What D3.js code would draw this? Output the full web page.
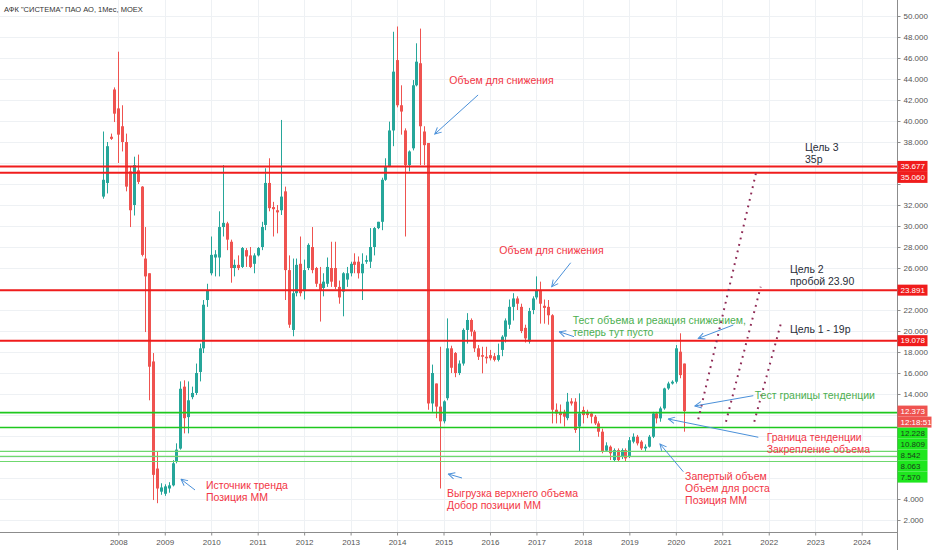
<!DOCTYPE html>
<html>
<head>
<meta charset="utf-8">
<script src="https://cdn.jsdelivr.net/npm/d3@7"></script>
<style>
  body { margin: 0; background: #fff; }
  svg { display: block; font-family: "Liberation Sans", Arial, sans-serif; }
</style>
</head>
<body>
<svg id="chart" width="932" height="550"></svg>
<script>
// monthly candles, first bar = Sep 2007
var startYear = 2007;
var startMonth = 9;

var opens = [
  32.8, 34.1, 38.5, 43.0,
  41.2, 39.5, 38.0, 35.2, 32.0, 35.3, 33.75, 26.9, 25.5, 17.1, 6.9, 4.7,
  4.5, 5.0, 5.3, 7.55, 8.8, 14.7, 11.8, 13.7, 14.1, 16.1, 18.35, 22.95,
  25.5, 27.0, 27.0, 29.9, 30.25, 28.5, 26.0, 26.3, 26.1, 27.7, 27.2, 26.4,
  27.2, 28.0, 30.1, 34.1, 31.8, 31.5, 31.5, 33.3, 25.8, 20.1, 23.6, 26.4,
  23.8, 26.0, 28.0, 26.0, 24.5, 24.1, 24.5, 26.0, 26.0, 24.2, 23.75, 24.9,
  25.5, 26.6, 26.6, 25.5, 26.6, 26.6, 28.0, 29.8, 30.4, 34.4, 35.65, 39.1,
  45.8, 41.5, 39.1, 35.8, 37.4, 43.4, 45.5, 39.0, 37.9, 13.1, 15.0, 12.8,
  11.4, 13.6, 18.35, 17.9, 16.0, 16.9, 20.1, 21.05, 19.94, 18.35, 17.7, 17.55,
  17.7, 17.6, 17.25, 18.2, 19.46, 20.6, 22.3, 23.1, 22.3, 20.3, 19.0, 22.0,
  23.2, 23.9, 22.4, 22.3, 21.5, 12.5, 12.3, 12.3, 11.7, 13.3, 13.27, 10.9,
  12.47, 12.3, 12.15, 11.84, 11.2, 10.41, 8.6, 8.98, 7.71, 8.66, 8.0, 8.66,
  8.0, 9.46, 9.93, 9.46, 8.82, 8.98, 9.93, 12.15, 11.68, 12.63, 14.53, 15.0,
  15.17, 18.03, 16.9
];
var highs = [
  39.0, 38.0, 38.8, 43.2,
  46.6, 41.5, 38.8, 35.65, 36.6, 36.8, 33.8, 29.9, 25.5, 17.9, 8.5, 5.5,
  5.4, 5.6, 7.7, 9.3, 15.2, 15.3, 15.2, 14.7, 16.9, 18.8, 22.95, 24.5,
  29.0, 27.7, 31.4, 35.8, 30.4, 28.7, 26.8, 27.2, 28.0, 27.9, 28.0, 27.4,
  28.0, 30.4, 35.5, 36.45, 32.3, 32.0, 40.1, 33.75, 27.2, 26.9, 26.9, 29.0,
  26.8, 28.35, 29.9, 26.1, 26.1, 25.5, 27.0, 28.5, 28.5, 24.8, 25.6, 26.1,
  26.6, 27.4, 27.1, 27.4, 27.2, 29.8, 29.9, 30.4, 34.6, 36.45, 39.94, 48.5,
  49.0, 43.4, 39.3, 37.2, 43.9, 47.4, 48.8, 39.5, 37.9, 16.8, 15.0, 18.5,
  13.4, 21.2, 18.6, 18.0, 17.2, 20.25, 21.7, 21.2, 20.1, 18.66, 18.5, 18.5,
  18.2, 17.9, 18.8, 19.6, 21.2, 23.0, 23.6, 23.3, 22.6, 20.6, 22.2, 23.3,
  25.2, 24.7, 23.0, 22.95, 21.6, 13.1, 13.0, 12.5, 14.1, 13.6, 13.6, 14.06,
  12.8, 12.5, 12.3, 12.0, 11.4, 10.7, 9.4, 9.1, 8.82, 8.82, 8.82, 8.82,
  9.9, 10.25, 10.1, 9.6, 9.2, 10.1, 12.3, 12.3, 12.8, 14.6, 15.17, 15.3,
  18.66, 19.78, 16.9
];
var lows = [
  32.6, 33.1, 38.2, 39.9,
  36.0, 37.1, 33.3, 29.9, 31.0, 34.0, 27.1, 19.9, 13.4, 3.9, 3.6, 4.4,
  4.3, 4.6, 5.2, 7.4, 8.7, 10.25, 10.25, 13.5, 13.9, 15.2, 17.9, 22.3,
  25.3, 25.2, 25.2, 29.0, 27.7, 24.6, 25.2, 25.8, 26.0, 26.1, 26.0, 25.5,
  27.1, 27.7, 29.6, 31.4, 29.0, 29.3, 31.05, 22.95, 20.3, 19.5, 23.3, 23.3,
  23.0, 25.8, 25.5, 24.2, 20.9, 23.3, 24.2, 24.2, 24.0, 22.6, 21.4, 24.2,
  25.2, 25.5, 25.0, 22.95, 26.4, 26.0, 27.2, 29.7, 29.6, 34.3, 35.6, 37.6,
  41.3, 38.7, 29.0, 35.2, 37.2, 43.3, 35.8, 35.8, 12.5, 12.3, 11.7, 5.0,
  11.2, 13.4, 16.0, 15.6, 15.8, 16.7, 18.8, 19.5, 18.0, 17.24, 15.97, 16.9,
  17.2, 17.1, 17.1, 17.6, 18.9, 20.2, 21.0, 22.0, 19.8, 18.9, 18.8, 21.6,
  23.0, 20.7, 20.7, 20.6, 11.2, 11.2, 11.2, 10.9, 11.5, 12.9, 10.3, 8.5,
  11.2, 11.7, 11.2, 11.05, 9.93, 8.35, 8.5, 7.71, 7.55, 7.55, 7.8, 7.55,
  7.9, 9.3, 9.1, 8.66, 8.5, 8.9, 9.8, 11.2, 11.36, 12.5, 14.4, 14.9,
  15.0, 15.5, 10.41
];
var closes = [
  34.4, 37.6, 38.3, 40.7,
  38.7, 38.0, 33.75, 31.5, 35.8, 34.2, 27.25, 25.2, 16.6, 6.3, 5.0, 5.1,
  5.2, 5.3, 7.4, 8.7, 14.5, 11.7, 13.4, 14.1, 16.0, 18.35, 22.5, 23.9,
  27.25, 27.3, 29.9, 30.3, 28.7, 26.0, 26.3, 26.0, 27.9, 27.1, 26.1, 27.2,
  27.9, 29.9, 34.1, 31.7, 31.6, 31.3, 32.8, 25.8, 20.6, 23.6, 26.3, 23.6,
  25.8, 28.2, 25.8, 24.5, 23.9, 24.7, 26.1, 24.7, 24.2, 23.2, 25.5, 25.5,
  26.4, 26.3, 25.5, 26.4, 26.75, 28.0, 29.8, 30.4, 34.4, 35.65, 39.1, 44.7,
  41.5, 40.9, 35.8, 37.1, 43.4, 45.65, 39.5, 37.7, 13.1, 16.0, 12.8, 11.4,
  13.3, 18.35, 16.5, 16.0, 16.9, 20.1, 21.05, 19.94, 18.35, 17.55, 17.55, 17.4,
  17.4, 17.25, 17.7, 19.46, 21.0, 22.3, 23.1, 22.6, 20.0, 19.3, 21.9, 23.1,
  23.9, 22.6, 22.2, 21.5, 12.5, 12.15, 12.0, 11.84, 13.27, 13.1, 10.57, 12.15,
  12.0, 12.0, 11.84, 11.2, 10.41, 8.5, 9.1, 8.35, 8.66, 7.71, 8.66, 7.87,
  9.6, 9.93, 9.3, 8.82, 8.98, 9.93, 12.15, 11.68, 12.63, 14.53, 15.0, 15.17,
  18.35, 15.8, 12.373
];

// horizontal levels
var redLevels = [35.677, 35.060, 23.891, 19.078];
var greenLevels = [12.228, 10.809, 8.542, 8.063, 7.570];
var lastPrice = 12.373;
var countdown = "12:18:51";

var yearTicks = d3.range(2008, 2025);
var priceTicks = d3.range(2, 51, 2);

// notes: t = decimal year, p = price
var notes = [
  { t: 2015.124, p: 43.9, color: "#f23645", lines: ["Объем для снижения"] },
  { t: 2016.20, p: 27.65, color: "#f23645", lines: ["Объем для снижения"] },
  { t: 2017.78, p: 21.05, color: "#4caf50", lines: ["Тест объема и реакция снижением,", "теперь тут пусто"] },
  { t: 2022.78, p: 37.52, color: "#2a2e39", lines: ["Цель 3", "35р"] },
  { t: 2022.458, p: 25.86, color: "#2a2e39", lines: ["Цель 2", "пробой 23.90"] },
  { t: 2022.458, p: 20.19, color: "#2a2e39", lines: ["Цель 1 - 19р"] },
  { t: 2021.70, p: 13.86, color: "#4caf50", lines: ["Тест границы тенденции"] },
  { t: 2021.955, p: 9.88, color: "#f23645", lines: ["Граница тенденции", "Закрепление объема"] },
  { t: 2020.20, p: 6.19, color: "#f23645", lines: ["Запертый объем", "Объем для роста", "Позиция ММ"] },
  { t: 2015.075, p: 4.57, color: "#f23645", lines: ["Выгрузка верхнего объема", "Добор позиции ММ"] },
  { t: 2009.887, p: 5.33, color: "#f23645", lines: ["Источник тренда", "Позиция ММ"] }
];
var arrows = [
  [[2015.744, 42.48], [2014.812, 38.76]],
  [[2017.737, 26.50], [2017.329, 24.22]],
  [[2017.808, 19.46], [2017.492, 19.93]],
  [[2021.237, 20.57], [2020.484, 19.30]],
  [[2021.668, 13.84], [2020.413, 12.86]],
  [[2021.775, 9.88], [2019.838, 11.62]],
  [[2020.161, 6.60], [2019.659, 9.24]],
  [[2015.398, 6.00], [2015.103, 6.38]],
  [[2009.651, 4.86], [2009.350, 5.88]]
];
var targetPaths = [
  [[2020.484, 11.59], [2021.741, 35.33]],
  [[2021.080, 11.36], [2021.827, 24.22]],
  [[2021.689, 11.36], [2022.264, 20.76]]
];

var width = 932;
var height = 550;
var plotRight = 897.5;
var plotBottom = 532.5;

var x = d3.scaleLinear().domain([2005.4537, 2024.7607]).range([0, 897]);
var y = d3.scaleLinear().domain([0.762, 51.524]).range([533, 0]);

var candles = closes.map(function (c, i) {
  var m = startMonth - 1 + i;
  return {
    t: startYear + Math.floor(m / 12) + (m % 12) / 12,
    o: opens[i], h: highs[i], l: lows[i], c: c
  };
});

var svg = d3.select("#chart");

svg.append("defs").append("marker")
  .attr("id", "head")
  .attr("viewBox", "0 0 10 10")
  .attr("refX", 9).attr("refY", 5)
  .attr("markerWidth", 8).attr("markerHeight", 8)
  .attr("markerUnits", "userSpaceOnUse")
  .attr("orient", "auto")
  .append("path")
  .attr("d", "M1,1 L9,5 L1,9")
  .attr("fill", "none")
  .attr("stroke", "#4a90d9")
  .attr("stroke-width", 1.2);

svg.append("defs").append("clipPath").attr("id", "plot")
  .append("rect").attr("width", plotRight).attr("height", plotBottom);

// grid
var grid = svg.append("g");
grid.selectAll(".hg").data(priceTicks).enter().append("line")
  .attr("x1", 0).attr("x2", plotRight)
  .attr("y1", function (d) { return Math.round(y(d)) + 0.5; })
  .attr("y2", function (d) { return Math.round(y(d)) + 0.5; })
  .attr("stroke", "#eef1f4");
grid.selectAll(".vg").data(yearTicks).enter().append("line")
  .attr("x1", function (d) { return Math.round(x(d)) + 0.5; })
  .attr("x2", function (d) { return Math.round(x(d)) + 0.5; })
  .attr("y1", 0).attr("y2", plotBottom)
  .attr("stroke", "#eef1f4");

// title
svg.append("text")
  .attr("x", 4).attr("y", 12)
  .attr("font-size", 7.5)
  .attr("fill", "#333")
  .text("АФК \"СИСТЕМА\" ПАО АО, 1Мес, MOEX");

// candles
var plot = svg.append("g").attr("clip-path", "url(#plot)");
var bar = plot.selectAll(".c").data(candles).enter().append("g");
bar.append("line")
  .attr("x1", function (d) { return Math.round(x(d.t)) + 0.5; })
  .attr("x2", function (d) { return Math.round(x(d.t)) + 0.5; })
  .attr("y1", function (d) { return y(d.h); })
  .attr("y2", function (d) { return y(d.l); })
  .attr("stroke", function (d) { return d.c >= d.o ? "#26a69a" : "#ef5350"; })
  .attr("stroke-width", 1);
bar.append("rect")
  .attr("x", function (d) { return Math.round(x(d.t)) - 1; })
  .attr("width", 3)
  .attr("y", function (d) { return y(Math.max(d.o, d.c)); })
  .attr("height", function (d) { return Math.max(1, Math.abs(y(d.o) - y(d.c))); })
  .attr("fill", function (d) { return d.c >= d.o ? "#26a69a" : "#ef5350"; });

// levels
plot.selectAll(".gl").data(greenLevels).enter().append("line")
  .attr("x1", 0).attr("x2", plotRight)
  .attr("y1", function (d) { return y(d); })
  .attr("y2", function (d) { return y(d); })
  .attr("stroke", function (d, i) { return i < 2 ? "#1ec81e" : "#6fd86f"; })
  .attr("stroke-width", function (d, i) { return i < 2 ? 1.6 : 1.2; });
plot.selectAll(".rl").data(redLevels).enter().append("line")
  .attr("x1", 0).attr("x2", plotRight)
  .attr("y1", function (d) { return y(d); })
  .attr("y2", function (d) { return y(d); })
  .attr("stroke", "#f01c1c")
  .attr("stroke-width", 2);

// dotted target paths
plot.selectAll(".tp").data(targetPaths).enter().append("line")
  .attr("x1", function (d) { return x(d[0][0]); })
  .attr("y1", function (d) { return y(d[0][1]); })
  .attr("x2", function (d) { return x(d[1][0]); })
  .attr("y2", function (d) { return y(d[1][1]); })
  .attr("stroke", "#8e2a55")
  .attr("stroke-width", 2)
  .attr("stroke-dasharray", "1.8 4.8");

// arrows
plot.selectAll(".ar").data(arrows).enter().append("line")
  .attr("x1", function (d) { return x(d[0][0]); })
  .attr("y1", function (d) { return y(d[0][1]); })
  .attr("x2", function (d) { return x(d[1][0]); })
  .attr("y2", function (d) { return y(d[1][1]); })
  .attr("stroke", "#4a90d9")
  .attr("stroke-width", 1)
  .attr("marker-end", "url(#head)");

// notes
var note = svg.selectAll(".note").data(notes).enter().append("text")
  .attr("x", function (d) { return x(d.t); })
  .attr("y", function (d) { return y(d.p); })
  .attr("font-size", 10.5)
  .attr("fill", function (d) { return d.color; });
note.selectAll("tspan").data(function (d) { return d.lines; }).enter().append("tspan")
  .attr("x", function () { return x(d3.select(this.parentNode).datum().t); })
  .attr("dy", function (d, i) { return i === 0 ? "0.35em" : "1.15em"; })
  .text(function (d) { return d; });

// price labels on the axis, pushed apart so they do not overlap
var labels = [];
redLevels.forEach(function (v) { labels.push({ v: v, text: v.toFixed(3), fill: "#f01c1c", color: "#fff" }); });
greenLevels.forEach(function (v) { labels.push({ v: v, text: v.toFixed(3), fill: "#1ee61e", color: "#1b3d1b" }); });
labels.push({ v: lastPrice, text: lastPrice.toFixed(3), fill: "#ef5350", color: "#fff", last: true });
labels.sort(function (a, b) { return b.v - a.v || (b.last ? 1 : -1); });
var placed = [];
var prevY = -100;
labels.forEach(function (d) {
  var cy = Math.max(y(d.v), prevY + 11);
  placed.push({ cy: cy, text: d.text, fill: d.fill, color: d.color, w: 30 });
  prevY = cy;
  if (d.last) {
    placed.push({ cy: cy + 11, text: countdown, fill: "#ef5350", color: "#fff", w: 34 });
    prevY = cy + 11;
  }
});

// axes
var yAxis = svg.append("g")
  .attr("transform", "translate(" + plotRight + ",0)")
  .call(d3.axisRight(y).tickValues(priceTicks).tickFormat(d3.format(".3f")).tickSize(3).tickPadding(3));
yAxis.select(".domain").remove();
yAxis.selectAll("line").attr("stroke", "#8c8c8c");
yAxis.selectAll("text").attr("font-size", 8).attr("fill", "#555").attr("font-family", "Liberation Sans, Arial, sans-serif");
// tick labels under a price label are hidden, as on the original axis
yAxis.selectAll(".tick").filter(function (d) {
  return placed.some(function (p) { return Math.abs(p.cy - y(d)) < 9.5; });
}).select("text").remove();

var xAxis = svg.append("g")
  .attr("transform", "translate(0," + plotBottom + ")")
  .call(d3.axisBottom(x).tickValues(yearTicks).tickFormat(d3.format("d")).tickSize(3).tickPadding(4));
xAxis.select(".domain").remove();
xAxis.selectAll("line").attr("stroke", "#8c8c8c");
xAxis.selectAll("text").attr("font-size", 8).attr("fill", "#555").attr("font-family", "Liberation Sans, Arial, sans-serif");

svg.append("line").attr("x1", plotRight).attr("x2", plotRight).attr("y1", 0).attr("y2", height)
  .attr("stroke", "#8c8c8c");
svg.append("line").attr("x1", 0).attr("x2", plotRight).attr("y1", plotBottom).attr("y2", plotBottom)
  .attr("stroke", "#8c8c8c");

var lab = svg.selectAll(".pl").data(placed).enter().append("g")
  .attr("transform", function (d) { return "translate(" + plotRight + "," + d.cy + ")"; });
lab.append("rect")
  .attr("x", 0).attr("y", -5.5).attr("height", 11)
  .attr("width", function (d) { return d.w; })
  .attr("fill", function (d) { return d.fill; });
lab.append("text")
  .attr("x", 3).attr("dy", "0.35em")
  .attr("font-size", 8)
  .attr("fill", function (d) { return d.color; })
  .text(function (d) { return d.text; });
</script>
</body>
</html>
